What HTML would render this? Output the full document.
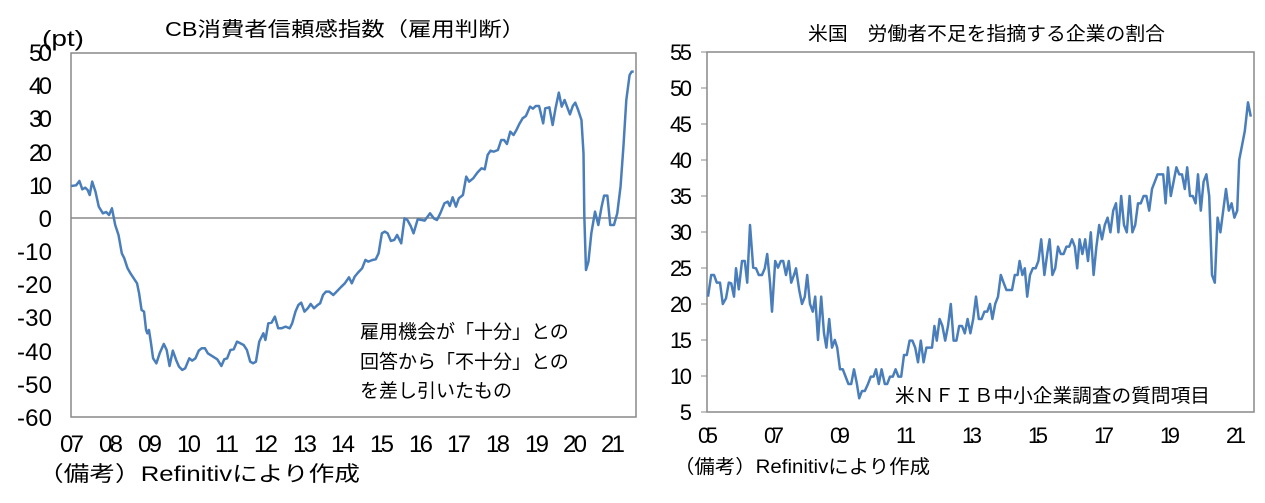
<!DOCTYPE html>
<html><head><meta charset="utf-8"><style>
html,body{margin:0;padding:0;background:#fff;width:1265px;height:503px;overflow:hidden}
svg{display:block}
.t{font-family:"Liberation Sans",sans-serif;fill:#000}
.j{font-family:"Liberation Sans","Noto Sans CJK JP",sans-serif;fill:#000}
</style></head><body>
<svg width="1265" height="503" viewBox="0 0 1265 503" xmlns="http://www.w3.org/2000/svg">
<!-- LEFT CHART -->
<text class="j" x="165" y="36" font-size="20" textLength="360" lengthAdjust="spacingAndGlyphs">CB消費者信頼感指数（雇用判断）</text>
<text class="t" x="42" y="46" font-size="22" textLength="42" lengthAdjust="spacingAndGlyphs">(pt)</text>
<rect x="71" y="53" width="565" height="364" fill="none" stroke="#888" stroke-width="1.5"/>
<line x1="71" y1="218" x2="636" y2="218" stroke="#888" stroke-width="1.5"/>
<g class="t" font-size="24" text-anchor="end" lengthAdjust="spacingAndGlyphs">
<text x="52" y="61" textLength="23">50</text><text x="52" y="94" textLength="23">40</text><text x="52" y="127" textLength="23">30</text><text x="52" y="161" textLength="23">20</text><text x="52" y="194" textLength="23">10</text><text x="52" y="227" textLength="12">0</text><text x="52" y="260" textLength="35">-10</text><text x="52" y="293" textLength="35">-20</text><text x="52" y="326" textLength="35">-30</text><text x="52" y="360" textLength="35">-40</text><text x="52" y="393" textLength="35">-50</text><text x="52" y="426" textLength="35">-60</text>
</g>
<g class="t" font-size="24" text-anchor="middle" lengthAdjust="spacingAndGlyphs">
<text x="72" y="452" textLength="24">07</text><text x="111" y="452" textLength="24">08</text><text x="150" y="452" textLength="24">09</text><text x="189" y="452" textLength="24">10</text><text x="227" y="452" textLength="24">11</text><text x="266" y="452" textLength="24">12</text><text x="305" y="452" textLength="24">13</text><text x="343" y="452" textLength="24">14</text><text x="382" y="452" textLength="24">15</text><text x="421" y="452" textLength="24">16</text><text x="459" y="452" textLength="24">17</text><text x="498" y="452" textLength="24">18</text><text x="537" y="452" textLength="24">19</text><text x="575" y="452" textLength="24">20</text><text x="613" y="452" textLength="24">21</text>
</g>
<text class="j" x="38" y="481" font-size="21" textLength="322" lengthAdjust="spacingAndGlyphs">（備考）Refinitivにより作成</text>
<g class="j" font-size="19"><text x="360" y="338">雇用機会が「十分」との</text><text x="360" y="368">回答から「不十分」との</text><text x="360" y="397">を差し引いたもの</text></g>
<g transform="scale(0.4115,0.3333)">
<polyline fill="none" stroke="#4a7ebb" stroke-width="2.5" vector-effect="non-scaling-stroke" stroke-linejoin="round" points="173,558 185,556 193,543 200,568 207,563 213,570 218,585 224,545 232,575 240,620 250,640 258,636 265,645 272,625 280,675 288,705 296,760 302,775 310,805 318,822 325,835 333,850 338,880 344,930 350,935 355,990 358,1000 362,990 367,1030 372,1075 380,1090 388,1060 398,1032 405,1050 412,1098 420,1052 428,1080 435,1100 443,1110 450,1105 460,1075 467,1082 475,1075 483,1052 490,1045 498,1045 505,1060 515,1068 528,1078 538,1098 545,1078 552,1075 560,1050 568,1048 576,1025 584,1030 592,1035 600,1050 608,1085 615,1090 622,1085 630,1025 640,1000 645,1020 652,970 660,968 668,950 676,985 684,985 694,980 704,985 710,970 718,935 725,915 732,908 740,935 748,925 755,912 763,925 772,915 778,910 785,885 792,875 800,875 810,885 818,875 828,862 838,850 848,832 855,850 862,830 870,818 880,805 888,780 895,785 905,780 913,778 920,760 928,700 935,695 942,700 950,723 958,720 965,705 975,730 983,655 990,660 998,678 1005,700 1015,658 1025,660 1032,662 1045,640 1055,656 1062,660 1070,640 1080,610 1088,605 1093,618 1100,592 1108,620 1115,595 1125,585 1133,530 1140,545 1150,535 1160,518 1170,505 1178,508 1185,465 1192,452 1200,455 1210,450 1218,420 1225,420 1232,432 1240,395 1248,405 1255,390 1262,372 1270,355 1278,348 1288,320 1295,326 1302,318 1310,318 1320,370 1325,325 1335,322 1343,375 1350,325 1358,278 1365,320 1372,300 1378,320 1385,343 1392,318 1398,308 1405,330 1413,360 1418,460 1420,650 1424,810 1430,785 1437,700 1446,635 1454,675 1462,620 1468,587 1476,587 1483,675 1492,675 1500,640 1508,560 1515,440 1522,300 1530,225 1535,215 1540,215"/>
</g>
<!-- RIGHT CHART -->
<text class="j" x="808" y="40" font-size="19" textLength="357" lengthAdjust="spacingAndGlyphs">米国　労働者不足を指摘する企業の割合</text>
<rect x="707" y="52" width="547" height="360" fill="none" stroke="#888" stroke-width="1.5"/>
<g stroke="#888" stroke-width="1"><line x1="701" y1="52" x2="707" y2="52"/><line x1="701" y1="88" x2="707" y2="88"/><line x1="701" y1="124" x2="707" y2="124"/><line x1="701" y1="160" x2="707" y2="160"/><line x1="701" y1="196" x2="707" y2="196"/><line x1="701" y1="232" x2="707" y2="232"/><line x1="701" y1="268" x2="707" y2="268"/><line x1="701" y1="304" x2="707" y2="304"/><line x1="701" y1="340" x2="707" y2="340"/><line x1="701" y1="376" x2="707" y2="376"/><line x1="701" y1="412" x2="707" y2="412"/></g>
<g class="t" font-size="22" text-anchor="end" lengthAdjust="spacingAndGlyphs">
<text x="692" y="60" textLength="22">55</text><text x="692" y="96" textLength="22">50</text><text x="692" y="132" textLength="22">45</text><text x="692" y="168" textLength="22">40</text><text x="692" y="204" textLength="22">35</text><text x="692" y="240" textLength="22">30</text><text x="692" y="276" textLength="22">25</text><text x="692" y="312" textLength="22">20</text><text x="692" y="348" textLength="22">15</text><text x="692" y="384" textLength="22">10</text><text x="692" y="420" textLength="11">5</text>
</g>
<g class="t" font-size="22" text-anchor="middle" lengthAdjust="spacingAndGlyphs">
<text x="708" y="443" textLength="20">05</text><text x="774" y="443" textLength="20">07</text><text x="840" y="443" textLength="20">09</text><text x="906" y="443" textLength="20">11</text><text x="972" y="443" textLength="20">13</text><text x="1038" y="443" textLength="20">15</text><text x="1104" y="443" textLength="20">17</text><text x="1170" y="443" textLength="20">19</text><text x="1236" y="443" textLength="20">21</text>
</g>
<text class="j" x="674" y="473" font-size="19" textLength="256" lengthAdjust="spacingAndGlyphs">（備考）Refinitivにより作成</text>
<text class="j" x="895" y="402" font-size="19" textLength="315" lengthAdjust="spacingAndGlyphs">米ＮＦＩＢ中小企業調査の質問項目</text>
<g transform="translate(640,0) scale(0.4,0.3333)">
<polyline fill="none" stroke="#4a7ebb" stroke-width="2.5" vector-effect="non-scaling-stroke" stroke-linejoin="round" points="170,890 178,825 185,825 192,848 200,848 207,912 215,895 222,848 228,850 235,890 240,805 247,868 255,783 262,783 268,848 275,675 283,803 290,805 297,825 305,825 312,805 318,762 325,848 330,935 338,783 345,803 352,783 358,783 365,825 372,783 378,848 385,825 390,805 398,870 405,912 412,890 418,825 425,912 432,935 438,890 445,1020 453,890 460,1000 466,1043 473,957 480,1043 487,1020 493,1043 500,1108 507,1108 514,1130 521,1152 528,1152 535,1108 542,1150 548,1195 555,1173 562,1173 570,1152 577,1130 584,1130 590,1108 597,1152 604,1108 612,1152 618,1152 625,1130 632,1130 639,1108 646,1130 653,1130 660,1065 667,1065 674,1022 681,1022 688,1043 695,1087 702,1022 709,1087 716,1043 723,1043 730,1043 736,978 742,1022 749,957 756,978 763,1022 770,978 777,912 784,1022 791,1022 798,978 805,978 812,1000 819,957 826,1000 833,957 840,890 847,957 854,957 861,935 868,935 875,912 881,957 888,912 895,890 902,825 909,848 916,870 923,870 930,870 937,825 944,825 949,783 956,825 962,805 968,890 975,825 982,805 989,805 996,783 1003,718 1011,825 1018,762 1024,718 1031,825 1038,805 1045,740 1052,762 1059,762 1066,740 1073,740 1080,718 1087,740 1093,805 1099,718 1106,762 1113,718 1120,783 1127,697 1134,825 1141,740 1148,675 1155,718 1162,675 1169,653 1176,697 1183,632 1190,610 1196,697 1203,588 1210,675 1217,697 1224,588 1231,697 1238,675 1245,610 1252,610 1259,588 1266,588 1273,632 1280,567 1287,545 1294,523 1301,523 1308,523 1314,610 1320,502 1327,588 1334,545 1341,502 1348,523 1355,523 1362,567 1368,502 1375,588 1382,588 1389,610 1395,523 1402,632 1409,545 1416,523 1423,588 1430,825 1437,848 1444,653 1451,697 1458,632 1465,567 1472,632 1479,610 1486,653 1493,632 1498,480 1505,437 1512,393 1520,307 1527,350"/>
</g>
</svg>
</body></html>
